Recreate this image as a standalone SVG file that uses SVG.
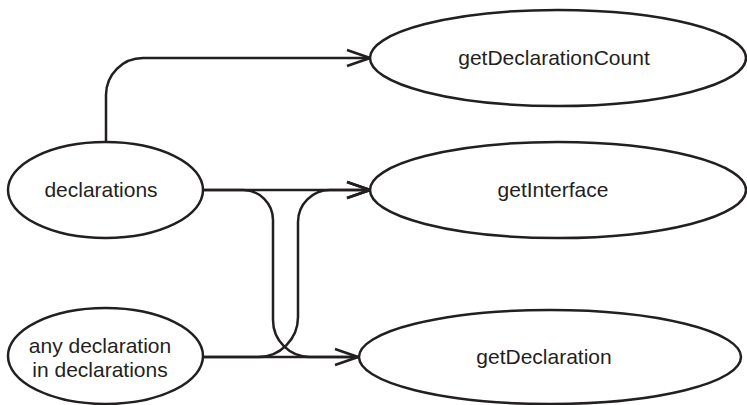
<svg xmlns="http://www.w3.org/2000/svg" width="747" height="405" viewBox="0 0 747 405">
<defs>
<marker id="arr" markerWidth="26" markerHeight="20" refX="24" refY="10" orient="auto" markerUnits="userSpaceOnUse">
<path d="M1,2 L24,10 L1,18" fill="none" stroke="#231f20" stroke-width="2.5"/>
</marker>
<style>
.n{fill:#fff;stroke:#231f20;stroke-width:2.5}
.t{font-family:"Liberation Sans",Arial,sans-serif;font-size:21px;fill:#231f20;text-anchor:middle}
.c{fill:none;stroke:#231f20;stroke-width:2.5}
</style>
</defs>
<rect width="747" height="405" fill="#fff"/>
<g id="connectors">
<path class="c" d="M106,142 V95 A37,37 0 0 1 143,58 H370" marker-end="url(#arr)"/>
<path class="c" d="M203,190 H370" marker-end="url(#arr)"/>
<path class="c" d="M203,190 H243 A30,30 0 0 1 273,220 V320 A37,37 0 0 0 310,357 H358" marker-end="url(#arr)"/>
<path class="c" d="M203,357 H258 A40,40 0 0 0 298,317 V222 A32,32 0 0 1 330,190 H370" marker-end="url(#arr)"/>
<path class="c" d="M203,357 H358"/>
</g>
<g id="declarations">
<ellipse class="n" cx="105.5" cy="190" rx="97.5" ry="48"/>
<text class="t" x="101" y="197">declarations</text>
</g>
<g id="anyDeclaration">
<ellipse class="n" cx="105.5" cy="356" rx="97.5" ry="48"/>
<text class="t" x="100" y="353">any declaration</text>
<text class="t" x="100" y="377">in declarations</text>
</g>
<g id="getDeclarationCount">
<ellipse class="n" cx="558" cy="58" rx="188" ry="48"/>
<text class="t" x="554" y="65">getDeclarationCount</text>
</g>
<g id="getInterface">
<ellipse class="n" cx="558" cy="190" rx="188" ry="48"/>
<text class="t" x="553" y="197">getInterface</text>
</g>
<g id="getDeclaration">
<ellipse class="n" cx="550" cy="357" rx="191" ry="47"/>
<text class="t" x="544" y="364">getDeclaration</text>
</g>
</svg>
